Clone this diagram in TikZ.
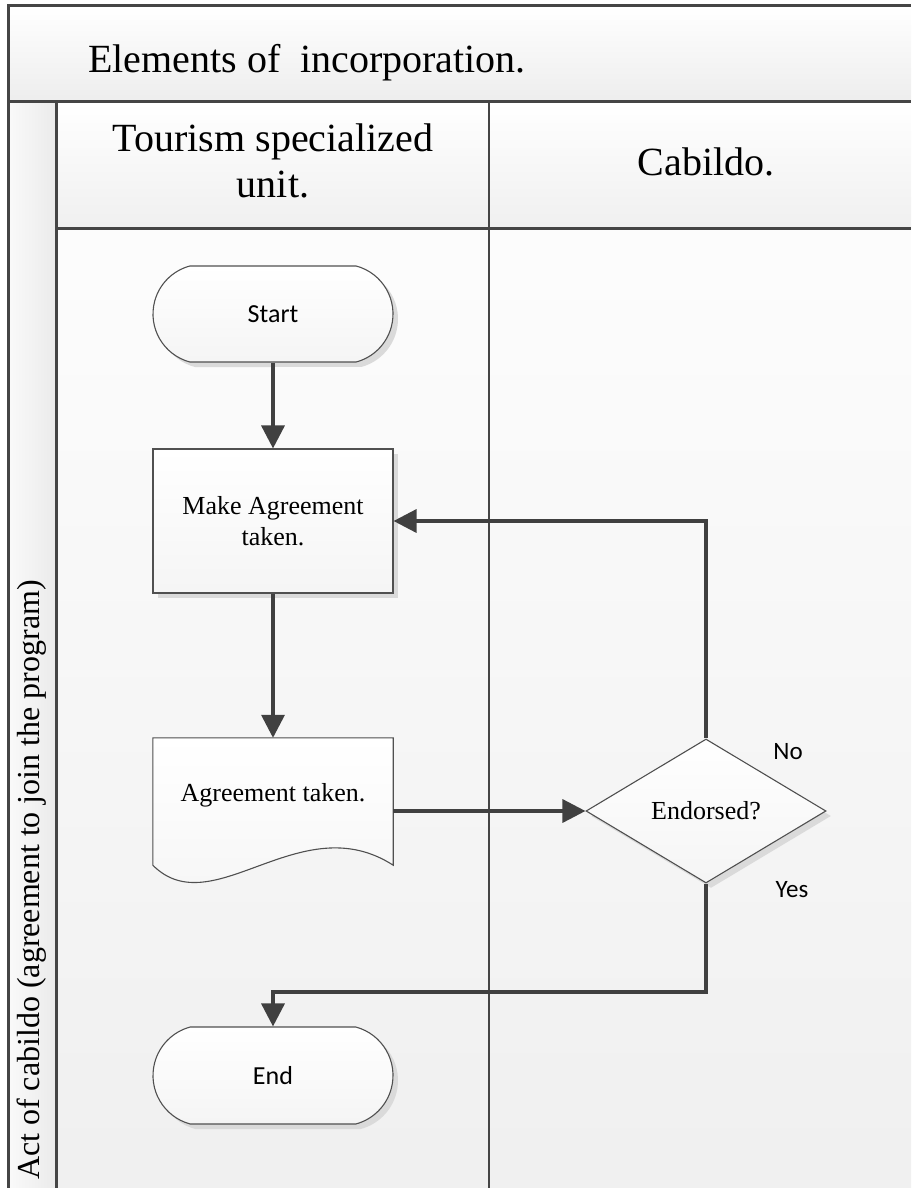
\documentclass[tikz,border=0pt]{standalone}
\usepackage{fontspec}
\setmainfont{Liberation Serif}
\newfontfamily\calfont{Carlito}
\usetikzlibrary{shapes.misc,shapes.geometric,arrows.meta,shadows,calc}
\definecolor{linec}{HTML}{404040}
\definecolor{framec}{HTML}{454545}
\definecolor{shapec}{HTML}{505050}
\definecolor{shadc}{HTML}{DADADA}
\begin{document}
\begin{tikzpicture}[x=1pt,y=-1pt,
  frameline/.style={draw=framec,line width=3pt},
  lanediv/.style={draw=framec,line width=2.2pt},
  flow/.style={draw=linec,line width=3.5pt,-{Triangle[length=23pt,width=23pt]}},
  shapefill/.style={draw=shapec,line width=1.1pt,top color=white,bottom color=black!4},
  shapebase/.style={shapefill,drop shadow={shadow xshift=5pt,shadow yshift=-5pt,fill=shadc,opacity=1}},
  serifsmall/.style={font=\fontsize{26}{31}\selectfont,align=center},
  sanssmall/.style={font=\calfont\fontsize{26}{31}\selectfont},
  term/.style={shapebase,rounded rectangle,rounded rectangle arc length=150,minimum width=240pt,inner sep=0pt,sanssmall},
  procbox/.style={shapebase,rectangle,minimum width=240pt,minimum height=144pt,inner sep=0pt,serifsmall},
  decbox/.style={shapebase,diamond,minimum width=240pt,minimum height=144pt,inner sep=0pt,serifsmall},
  headtext/.style={font=\fontsize{40}{46}\selectfont,align=center}
]
\useasboundingbox (0,0) rectangle (911,1188);
\fill[white] (0,0) rectangle (911,1188);
% background fills
\shade[top color=white,bottom color=black!7] (8,6) rectangle (911,102);
\shade[left color=black!2,right color=black!8] (8,102) rectangle (56,1188);
\shade[top color=white,bottom color=black!6] (56,102) rectangle (911,228);
\shade[top color=black!1,bottom color=black!6] (56,228) rectangle (911,1188);
% frame lines
\draw[frameline] (8,6) -- (911,6);
\draw[frameline] (8,4.5) -- (8,1188);
\draw[frameline] (8,102) -- (911,102);
\draw[frameline] (56,102) -- (56,1188);
\draw[frameline] (56,228) -- (911,228);
\draw[lanediv] (489,102) -- (489,1188);
% header texts
\node[headtext,anchor=base west,inner sep=0pt] (title) at (88,73) {Elements of\ \ incorporation.};
\node[headtext,inner sep=0pt] (lane1) at (273,161) {Tourism specialized\\unit.};
\node[headtext] (lane2) at (706,162) {Cabildo.};
\node[font=\fontsize{32}{38}\selectfont,rotate=90] (pool) at (32,880) {Act of cabildo (agreement to join the program)};
% flow nodes
\node[term,minimum height=96pt] (start) at (273,314) {Start};
\node[procbox] (proc) at (273,521) {Make Agreement\\taken.};
\node[draw=none,minimum width=240pt,minimum height=127pt,inner sep=0pt] (doc) at (273,801.5) {};
\fill[shadc,shift={(5,5)}] (doc.north west) -- (doc.north east) -- (doc.south east)
  .. controls ($(doc.south east)+(-93,-60)$) and ($(doc.south west)+(60,60)$) .. (doc.south west) -- cycle;
\path[shapefill] (doc.north west) -- (doc.north east) -- (doc.south east)
  .. controls ($(doc.south east)+(-93,-60)$) and ($(doc.south west)+(60,60)$) .. (doc.south west) -- cycle;
\node[serifsmall] (doctext) at (273,795) {Agreement taken.};
\node[decbox] (dec) at (706,811) {Endorsed?};
\node[term,minimum height=97pt] (endn) at (273,1075.5) {End};
% labels
\node[font=\calfont\fontsize{25}{30}\selectfont] (nolab) at (788,752) {No};
\node[font=\calfont\fontsize{25}{30}\selectfont] (yeslab) at (792,890) {Yes};
% connectors
\draw[flow] (start.south) -- (proc.north);
\draw[flow] (proc.south) -- (doc.north);
\draw[flow] (doc.east |- dec.west) -- (dec.west);
\draw[flow] (dec.north) |- (proc.east);
\coordinate (yj) at (706,992);
\draw[flow] (dec.south) -- (yj) -| (endn.north);
\end{tikzpicture}
\end{document}
